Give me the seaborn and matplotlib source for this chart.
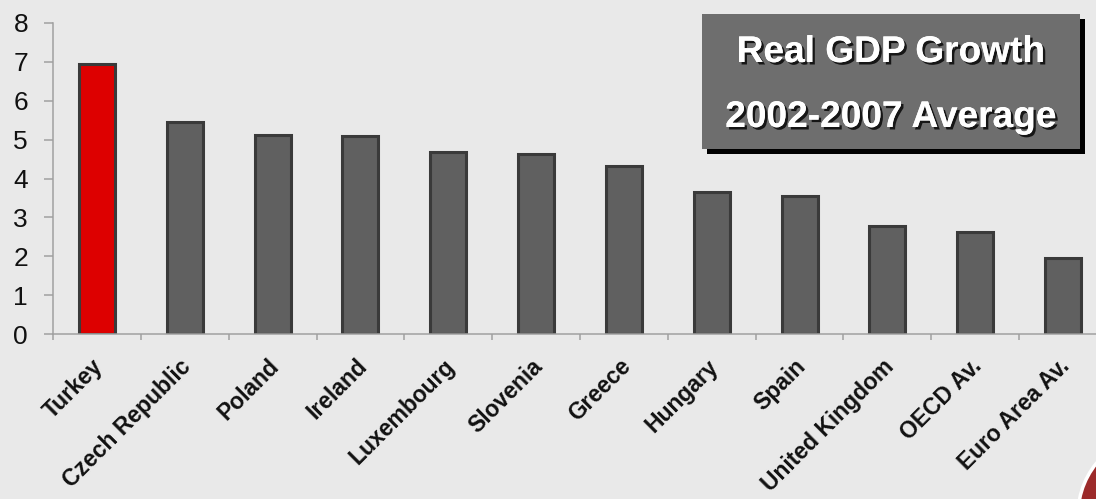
import numpy as np
import pandas as pd
import matplotlib
matplotlib.use("Agg")
import matplotlib.pyplot as plt
import matplotlib.patheffects as pe
import matplotlib.transforms as mtrans
from matplotlib.patches import Rectangle, Circle
from matplotlib.ticker import FixedLocator
import seaborn as sns

countries = ["Turkey", "Czech Republic", "Poland", "Ireland", "Luxembourg",
             "Slovenia", "Greece", "Hungary", "Spain", "United Kingdom",
             "OECD Av.", "Euro Area Av."]
growth = [6.95, 5.45, 5.12, 5.10, 4.68, 4.63, 4.32, 3.65, 3.55, 2.78, 2.62, 1.95]
title_lines = ["Real GDP Growth", "2002-2007 Average"]
y_ticks = [0, 1, 2, 3, 4, 5, 6, 7, 8]

bg = "#e9e9e9"
bar_gray = "#606060"
bar_red = "#dd0000"
edge = "#3a3a3a"
axis_gray = "#a0a0a0"
colors = [bar_red] + [bar_gray] * (len(countries) - 1)

sns.set_theme(style="white")
plt.rcParams["font.family"] = ["Liberation Sans", "DejaVu Sans"]

df = pd.DataFrame({"country": countries, "growth": growth})

W, H = 1096, 499
fig = plt.figure(figsize=(W / 100, H / 100), dpi=100, facecolor=bg)
ax = fig.add_axes([53 / W, 165 / H, 1054 / W, 311 / H])
ax.set_facecolor(bg)

sns.barplot(data=df, x="country", y="growth", hue="country", palette=colors,
            legend=False, width=0.41, edgecolor=edge, linewidth=2.2,
            saturation=1, ax=ax)

ax.set_xlim(-0.5, len(countries) - 0.5)
ax.set_ylim(0, 8)
ax.set_yticks(y_ticks)
ax.set_xlabel("")
ax.set_ylabel("")

for side in ["top", "right"]:
    ax.spines[side].set_visible(False)
for side in ["left", "bottom"]:
    ax.spines[side].set_color(axis_gray)
    ax.spines[side].set_linewidth(1.1)

ax.tick_params(axis="y", direction="out", length=6.5, width=1.1, color=axis_gray,
               pad=11.5, labelsize=19, labelcolor="#111111", left=True)
ax.tick_params(axis="x", which="major", length=0, pad=0)
ax.xaxis.set_minor_locator(FixedLocator(np.arange(-0.5, len(countries), 1.0)))
ax.tick_params(axis="x", which="minor", direction="out", length=4.3, width=1.1,
               color=axis_gray, bottom=True)

ax.set_xticks(range(len(countries)))
ax.set_xticklabels(countries, rotation=45, ha="right", va="center",
                   rotation_mode="anchor", fontsize=16.5, fontweight="bold",
                   color="#111111")
shift = mtrans.ScaledTranslation(3 / 100, -29 / 100, fig.dpi_scale_trans)
for lbl in ax.get_xticklabels():
    lbl.set_transform(lbl.get_transform() + shift)

# title box with drop shadow
bx0, bx1, by0, by1 = 702, 1080, 14, 149
fig.patches.append(Rectangle(((bx0 + 5) / W, 1 - (by1 + 5) / H), (bx1 - bx0) / W,
                             (by1 - by0) / H, transform=fig.transFigure,
                             facecolor="black", edgecolor="none", zorder=5))
fig.patches.append(Rectangle((bx0 / W, 1 - by1 / H), (bx1 - bx0) / W,
                             (by1 - by0) / H, transform=fig.transFigure,
                             facecolor="#6e6e6e", edgecolor="none", zorder=6))
shadow = [pe.withSimplePatchShadow(offset=(1.8, -1.8), shadow_rgbFace="black",
                                   alpha=0.8), pe.Normal()]
for line, base in zip(title_lines, [62, 127]):
    fig.text((bx0 + bx1) / 2 / W, 1 - base / H, line, ha="center", va="baseline",
             fontsize=26.7, fontweight="bold", color="white", zorder=7,
             path_effects=shadow)

# corner emblem peeking in at the bottom right
fig.patches.append(Circle((1160, H - 515), 82, transform=None,
                          facecolor="#9c2a2a", edgecolor="white", linewidth=2.5,
                          zorder=4))

fig.savefig("out.png", dpi=100, facecolor=bg)
